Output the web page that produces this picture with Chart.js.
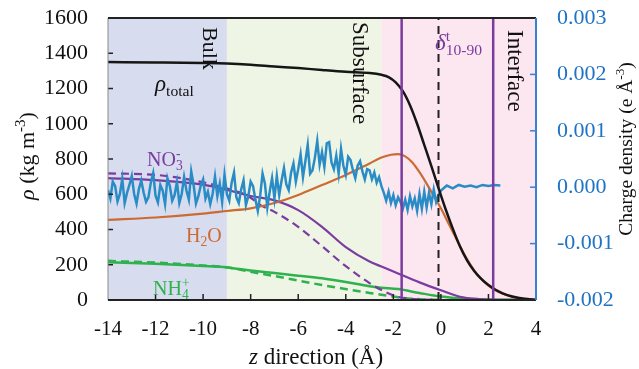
<!DOCTYPE html>
<html lang="en">
<head>
    <meta charset="UTF-8">
    <title>Density profiles</title>
    <script src="https://cdn.jsdelivr.net/npm/chart.js@4.4.1/dist/chart.umd.min.js"></script>
    <style>
        body { margin: 0; background: #fff; }
    </style>
</head>
<body>
    <canvas id="myChart" width="639" height="369"></canvas>
<script>

// total density (kg m-3)
const totalZ   = [-14, -12, -10, -9, -8, -7, -6, -5, -4, -3, -2.5, -2.2, -1.9, -1.6, -1.3, -1.0, -0.7, -0.4, -0.1, 0.2, 0.5, 0.8, 1.1, 1.4, 1.7, 2.0, 2.3, 2.6, 3.0, 3.5, 4];
const totalRho = [1350, 1348, 1345, 1342, 1335, 1325, 1316, 1305, 1295, 1288, 1278, 1265, 1235, 1185, 1105, 1000, 880, 760, 635, 515, 405, 305, 225, 165, 120, 85, 58, 38, 20, 7, 2];

// water
const h2oZ   = [-14, -12, -10, -9, -8, -7, -6, -5, -4, -3, -2.5, -2.1, -1.8, -1.5, -1.2, -0.9, -0.6, -0.3, 0, 0.3, 0.6, 0.9, 1.2, 1.5, 1.8, 2.2, 2.6, 3, 3.5, 4];
const h2oRho = [455, 468, 490, 505, 520, 550, 596, 652, 709, 775, 808, 824, 828, 815, 780, 725, 660, 590, 520, 440, 360, 280, 210, 150, 105, 62, 35, 18, 6, 2];

// nitrate, solid and dashed
const no3Z    = [-14, -12, -10, -9, -8, -7, -6, -5, -4, -3, -2.5, -1.8, -0.9, 0, 0.8, 1.6, 2.5, 4];
const no3Rho  = [692, 680, 655, 625, 590, 565, 510, 415, 300, 218, 190, 150, 100, 55, 18, 5, 1, 0];
const no3dZ   = [-14, -12, -10, -9, -8.5, -8, -7.6, -7, -6, -5, -4, -3, -2.5, -1.8, -1, 0];
const no3dRho = [718, 710, 668, 632, 612, 580, 540, 500, 415, 305, 192, 96, 57, 18, 4, 0];

// ammonium, solid and dashed
const nh4Z    = [-14, -12, -10, -9, -8, -7, -6, -5, -4, -3, -2.5, -1.8, -0.9, 0, 1, 2, 3, 4];
const nh4Rho  = [214, 205, 193, 185, 168, 153, 138, 123, 102, 78, 70, 62, 40, 20, 8, 3, 1, 0];
const nh4dZ   = [-14, -12, -10, -9, -8, -7, -6, -5, -4, -3, -2.5, -1.8, -1, 0];
const nh4dRho = [222, 212, 196, 186, 160, 136, 110, 85, 62, 40, 30, 15, 5, 1];

// charge density, in 1e-4 e A^-3
const chargeZ = [
    -14.0, -13.9, -13.8, -13.7, -13.6, -13.5, -13.4, -13.3, -13.2, -13.1,
    -13.0, -12.9, -12.8, -12.7, -12.6, -12.5, -12.4, -12.3, -12.2, -12.1,
    -12.0, -11.9, -11.8, -11.7, -11.6, -11.5, -11.4, -11.3, -11.2, -11.1,
    -11.0, -10.9, -10.8, -10.7, -10.6, -10.5, -10.4, -10.3, -10.2, -10.1,
    -10.0, -9.9, -9.8, -9.7, -9.6, -9.5, -9.4, -9.3, -9.2, -9.1,
    -9.0, -8.9, -8.8, -8.7, -8.6, -8.5, -8.4, -8.3, -8.2, -8.1,
    -8.0, -7.9, -7.8, -7.7, -7.6, -7.5, -7.4, -7.3, -7.2, -7.1,
    -7.0, -6.9, -6.8, -6.7, -6.6, -6.5, -6.4, -6.3, -6.2, -6.1,
    -6.0, -5.9, -5.8, -5.7, -5.6, -5.5, -5.4, -5.3, -5.2, -5.1,
    -5.0, -4.9, -4.8, -4.7, -4.6, -4.5, -4.4, -4.3, -4.2, -4.1,
    -4.0, -3.9, -3.8, -3.7, -3.6, -3.5, -3.4, -3.3, -3.2, -3.1,
    -3.0, -2.9, -2.8, -2.7, -2.6, -2.5, -2.4, -2.3, -2.2, -2.1,
    -2.0, -1.9, -1.8, -1.7, -1.6, -1.5, -1.4, -1.3, -1.2, -1.1,
    -1.0, -0.9, -0.8, -0.7, -0.6, -0.5, -0.4, -0.3, -0.2, -0.1,
    0, 0.25, 0.5, 0.75, 1.0, 1.25, 1.5, 1.75, 2.0, 2.25, 2.5
];
const chargeE4 = [
    -0.5, -2.0, 1.0, 0.2, -2.5, -1.2, 1.5, -2.8, -1.0, 0.4,
    2.0, -1.2, -2.9, -0.3, 1.2, -1.0, -2.6, -1.8, 0.8, 2.5,
    -1.5, -2.7, 0.4, -0.6, -3.0, 1.6, 0.2, -2.4, -1.4, 0.9,
    -2.8, -1.2, 1.8, -0.6, -2.2, 2.8, 0.4, -2.9, -1.6, 0.3,
    1.4, -2.0, -0.8, -3.0, -1.2, 1.9, -1.6, 0.6, -2.6, 2.2,
    -1.2, -2.4, 0.8, 2.6, -1.8, -2.8, -0.4, 1.2, -3.2, -1.6,
    1.0, 0.2, -2.2, -4.2, -1.5, 2.4, 0.6, -3.6, -0.8, 1.6,
    -2.0, 2.0, -1.4, 1.2, 3.4, 0.5, -0.5, 2.6, 4.2, 1.0,
    3.2, 5.8, 1.8, 4.6, 7.5, 2.4, 3.0, 5.2, 8.2, 4.0,
    6.2, 3.6, 7.8, 8.0, 4.4, 3.2, 5.6, 2.4, 6.8, 3.8,
    2.2, 5.4, 4.8, 3.0, 1.6, 3.8, 4.6, 2.8, 1.4, 3.2,
    3.0, 1.4, 2.6, 0.8, 1.8, 0.2, -1.0, -2.4, -0.8, -2.8,
    -1.4, -3.2, -1.8, -2.6, -3.8, -2.2, -4.0, -1.6, -3.4, -2.0,
    -4.2, -1.2, -3.8, -0.8, -3.6, -1.0, -3.0, -0.4, -2.6, -1.4,
    -0.6, 0.3, -0.2, 0.4, 0.1, 0.3, 0.0, 0.4, 0.2, 0.4, 0.3
];

// regions and marker lines
const bandEdges  = [-14, -9, -2.5, 4];
const bandColors = ['#d7dcef', '#eef5e5', '#fce6f0'];
const purpleLinesZ = [-1.65, 2.2];
const dashedLineZ = -0.1;

const xTicks = [-14, -12, -10, -8, -6, -4, -2, 0, 2, 4];

const serif = '"Liberation Serif", "DejaVu Serif", serif';
const purple = '#7a3c9f';
const orange = '#cc6a34';
const green = '#2fb24e';
const blue = '#2a8cc6';

function pts(xs, ys) {
    return xs.map((x, i) => ({ x: x, y: ys[i] }));
}

function vline(z) {
    return [{ x: z, y: 0 }, { x: z, y: 1600 }];
}

// draw a piece of text with sub/superscripts, optionally rotated
function rich(ctx, x, y, parts, size, color, rot, align) {
    ctx.save();
    ctx.translate(x, y);
    ctx.rotate(rot || 0);
    ctx.fillStyle = color;
    ctx.textBaseline = 'alphabetic';
    ctx.textAlign = 'left';
    const fontOf = p => (p.i ? 'italic ' : '') + ((p.sub || p.sup) ? size * 0.68 : size) + 'px ' + serif;
    let w = 0;
    parts.forEach(p => {
        ctx.font = fontOf(p);
        if (!p.stack) w += ctx.measureText(p.t).width;
    });
    let cx = align === 'center' ? -w / 2 : 0;
    parts.forEach(p => {
        ctx.font = fontOf(p);
        let dy = 0;
        if (p.sup) dy = -size * 0.4;
        if (p.sub) dy = size * 0.22;
        ctx.fillText(p.t, cx, dy);
        if (!p.stack) cx += ctx.measureText(p.t).width;
    });
    ctx.restore();
}

const bandsPlugin = {
    id: 'bands',
    beforeDatasetsDraw(chart) {
        const { ctx, chartArea: a, scales: { x } } = chart;
        ctx.save();
        for (let i = 0; i < bandColors.length; i++) {
            const x0 = x.getPixelForValue(bandEdges[i]);
            const x1 = x.getPixelForValue(bandEdges[i + 1]);
            ctx.fillStyle = bandColors[i];
            ctx.fillRect(x0, a.top, x1 - x0, a.bottom - a.top);
        }
        ctx.restore();
    }
};

const framePlugin = {
    id: 'frame',
    afterDatasetsDraw(chart) {
        const { ctx, chartArea: a, scales } = chart;
        ctx.save();
        // inner ticks
        ctx.strokeStyle = '#222';
        ctx.lineWidth = 1.5;
        xTicks.slice(1, -1).forEach(v => {
            const px = scales.x.getPixelForValue(v);
            ctx.beginPath(); ctx.moveTo(px, a.bottom); ctx.lineTo(px, a.bottom - 6); ctx.stroke();
        });
        [200, 400, 600, 800, 1000, 1200, 1400].forEach(v => {
            const py = scales.y.getPixelForValue(v);
            ctx.beginPath(); ctx.moveTo(a.left, py); ctx.lineTo(a.left + 5, py); ctx.stroke();
        });
        ctx.strokeStyle = '#3a80d2';
        [-10, 0, 10, 20].forEach(v => {
            const py = scales.y2.getPixelForValue(v);
            ctx.beginPath(); ctx.moveTo(a.right, py); ctx.lineTo(a.right - 6, py); ctx.stroke();
        });
        // box
        ctx.lineWidth = 1;
        ctx.strokeStyle = '#888';
        ctx.beginPath(); ctx.moveTo(a.left, a.top); ctx.lineTo(a.left, a.bottom); ctx.stroke();
        ctx.lineWidth = 2;
        ctx.strokeStyle = '#222';
        ctx.beginPath(); ctx.moveTo(a.left, a.top); ctx.lineTo(a.right, a.top); ctx.stroke();
        ctx.beginPath(); ctx.moveTo(a.left, a.bottom); ctx.lineTo(a.right, a.bottom); ctx.stroke();
        ctx.strokeStyle = '#3a80d2';
        ctx.beginPath(); ctx.moveTo(a.right, a.top); ctx.lineTo(a.right, a.bottom); ctx.stroke();
        ctx.restore();
    },
    afterDraw(chart) {
        const ctx = chart.ctx;
        const up = -Math.PI / 2, down = Math.PI / 2;
        // axis titles
        rich(ctx, 34, 156, [{ t: 'ρ', i: true }, { t: ' (kg m' }, { t: '-3', sup: true }, { t: ')' }], 22, '#111', up, 'center');
        rich(ctx, 632, 149, [{ t: 'Charge density (e Å' }, { t: '-3', sup: true }, { t: ')' }], 19.5, '#111', up, 'center');
        rich(ctx, 316, 364, [{ t: 'z', i: true }, { t: ' direction (Å)' }], 23, '#111', 0, 'center');
        // region labels
        rich(ctx, 203, 27, [{ t: 'Bulk' }], 22, '#111', down);
        rich(ctx, 353, 22, [{ t: 'Subsurface' }], 23, '#111', down);
        rich(ctx, 508, 30, [{ t: 'Interface' }], 23, '#111', down);
        // curve labels
        rich(ctx, 435, 50, [{ t: 'δ', i: true }, { t: 't', sup: true, stack: true }, { t: '10-90', sub: true }], 23, purple, 0);
        rich(ctx, 155, 91, [{ t: 'ρ', i: true }, { t: 'total', sub: true }], 23, '#111', 0);
        rich(ctx, 147, 166, [{ t: 'NO' }, { t: '3', sub: true, stack: true }, { t: '-', sup: true }], 20, purple, 0);
        rich(ctx, 186, 242, [{ t: 'H' }, { t: '2', sub: true }, { t: 'O' }], 20, orange, 0);
        rich(ctx, 153, 295, [{ t: 'NH' }, { t: '4', sub: true, stack: true }, { t: '+', sup: true }], 20, green, 0);
    }
};

// keep the plot area where the figure has it
function noPad(s) {
    s.paddingTop = 0; s.paddingBottom = 0; s.paddingLeft = 0; s.paddingRight = 0;
}

const ctx = document.getElementById('myChart').getContext('2d');
const line = (data, color, width, extra) => Object.assign({
    data: data, borderColor: color, borderWidth: width, pointRadius: 0,
    tension: 0.4, cubicInterpolationMode: 'monotone', fill: false, yAxisID: 'y'
}, extra || {});

new Chart(ctx, {
    type: 'line',
    data: {
        datasets: [
            line(vline(purpleLinesZ[0]), purple, 2.5, { tension: 0, cubicInterpolationMode: 'default', order: 0 }),
            line(vline(purpleLinesZ[1]), purple, 2.5, { tension: 0, cubicInterpolationMode: 'default', order: 0 }),
            line(vline(dashedLineZ), '#222', 2, { tension: 0, cubicInterpolationMode: 'default', borderDash: [8, 6], order: 0 }),
            line(pts(totalZ, totalRho), '#161616', 2.5, { order: 1 }),
            line(pts(chargeZ, chargeE4), blue, 2.5, { tension: 0, cubicInterpolationMode: 'default', yAxisID: 'y2', order: 2 }),
            line(pts(h2oZ, h2oRho), orange, 2.2, { order: 3 }),
            line(pts(no3Z, no3Rho), purple, 2.2, { order: 3 }),
            line(pts(no3dZ, no3dRho), purple, 2.2, { borderDash: [8, 5], order: 3 }),
            line(pts(nh4Z, nh4Rho), green, 2.5, { order: 3 }),
            line(pts(nh4dZ, nh4dRho), green, 2.5, { borderDash: [8, 5], order: 3 })
        ]
    },
    options: {
        responsive: false,
        animation: false,
        layout: { padding: { top: 18, left: 0, right: 0, bottom: 0 } },
        plugins: { legend: { display: false }, tooltip: { enabled: false } },
        scales: {
            x: {
                type: 'linear', min: -14, max: 4,
                afterBuildTicks: s => { s.ticks = xTicks.map(v => ({ value: v })); },
                afterFit: s => { s.height = 69; noPad(s); },
                grid: { display: false, drawTicks: false },
                border: { display: false },
                ticks: { padding: 17, color: '#111', font: { family: serif, size: 21 } }
            },
            y: {
                position: 'left', min: 0, max: 1600,
                afterFit: s => { s.width = 108; noPad(s); },
                grid: { display: false, drawTicks: false },
                border: { display: false },
                ticks: {
                    stepSize: 200, padding: 20, color: '#111', font: { family: serif, size: 22 },
                    callback: v => String(v)
                }
            },
            y2: {
                position: 'right', min: -20, max: 30,
                afterFit: s => { s.width = 103; noPad(s); },
                grid: { display: false, drawTicks: false },
                border: { display: false },
                ticks: {
                    stepSize: 10, padding: 21, color: '#1f72c4', font: { family: serif, size: 22 },
                    callback: v => (v * 1e-4).toFixed(3)
                }
            }
        }
    },
    plugins: [bandsPlugin, framePlugin]
});
</script>
</body>
</html>
